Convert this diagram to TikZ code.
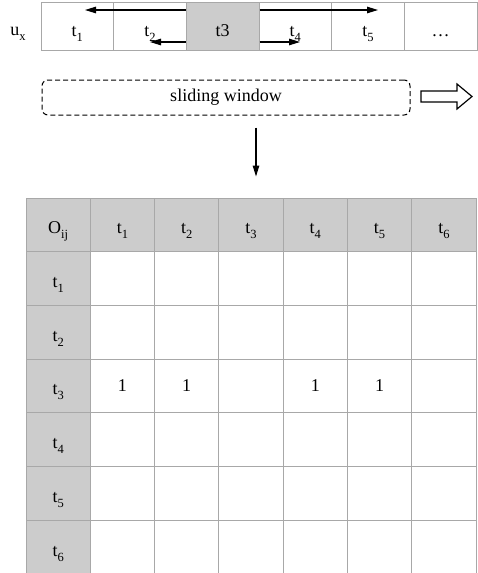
\documentclass[tikz,border=0pt]{standalone}
\usepackage{fontspec}
\setmainfont{Liberation Serif}
\usetikzlibrary{arrows.meta}
\definecolor{cellgray}{RGB}{204,204,204}
\definecolor{rulegray}{RGB}{168,168,168}
\newcommand{\tsub}[2]{#1\raisebox{-5pt}{\fontsize{12.5}{13}\selectfont #2}}
\tikzset{
  cell/.style={draw=rulegray, line width=1pt, minimum width=72.67pt, minimum height=48pt, inner sep=0pt},
  tcell/.style={draw=rulegray, line width=1pt, minimum width=64.29pt, minimum height=53.7pt, inner sep=0pt},
  lbl/.style={anchor=base, inner sep=0pt, font=\fontsize{18}{21}\selectfont},
  arr/.style={line width=1.2pt, -{Triangle[length=11pt,width=6.5pt]}}
}
\begin{document}
\begin{tikzpicture}[x=1pt,y=-1pt]
\useasboundingbox (0,0) rectangle (478,573);
\node[lbl] (ux) at (18,35) {\tsub{u}{x}};
\foreach \i/\fc in {1/white,2/white,3/cellgray,4/white,5/white,6/white}
  \node[cell, fill=\fc] (s\i) at ({41+72.67*(\i-0.5)},26) {};
\foreach \i/\lab in {1/\tsub{t}{1},2/\tsub{t}{2},3/t3,4/\tsub{t}{4},5/\tsub{t}{5},6/…}
  \node[lbl] (sl\i) at ([yshift=-10pt]s\i.center) {\lab};
\coordinate (a1) at (85,10);
\coordinate (a2) at (378,10);
\coordinate (a3) at (150,42);
\coordinate (a4) at (300,42);
\draw[arr] (s3.west |- a1) -- (a1);
\draw[arr] (s3.east |- a2) -- (a2);
\draw[arr] (s3.west |- a3) -- (a3);
\draw[arr] (s3.east |- a4) -- (a4);
\node[draw, line width=1pt, dash pattern=on 5pt off 3pt, rounded corners=6pt, minimum width=368pt, minimum height=35pt, font=\fontsize{18}{21}\selectfont] (win) at (226,97.5) {sliding window};
\draw[line width=1.2pt] (421,91) -- (457,91) -- (457,84) -- (472,96.5) -- (457,109) -- (457,102) -- (421,102) -- cycle;
\foreach \r in {1,...,6}
  \foreach \c in {1,...,6}
    \node[tcell] (o-\r-\c) at ({26+64.29*(\c+0.5)},{198+53.7*(\r+0.5)}) {};
\foreach \c/\lab in {0/\tsub{O}{ij},1/\tsub{t}{1},2/\tsub{t}{2},3/\tsub{t}{3},4/\tsub{t}{4},5/\tsub{t}{5},6/\tsub{t}{6}} {
  \node[tcell, fill=cellgray] (o-0-\c) at ({26+64.29*(\c+0.5)},{198+53.7*0.5}) {};
  \node[lbl] at ([yshift=-9pt]o-0-\c.center) {\lab};
}
\foreach \r/\lab in {1/\tsub{t}{1},2/\tsub{t}{2},3/\tsub{t}{3},4/\tsub{t}{4},5/\tsub{t}{5},6/\tsub{t}{6}} {
  \node[tcell, fill=cellgray] (o-\r-0) at ({26+64.29*0.5},{198+53.7*(\r+0.5)}) {};
  \node[lbl] at ([yshift=-9pt]o-\r-0.center) {\lab};
}
\foreach \c in {1,2,4,5}
  \node[lbl] at ([yshift=-6pt]o-3-\c.center) {1};
\coordinate (dn) at (256,0);
\draw[arr, shorten <=12pt, shorten >=21pt] (win.south -| dn) -- (o-0-3.north -| dn);
\end{tikzpicture}
\end{document}
